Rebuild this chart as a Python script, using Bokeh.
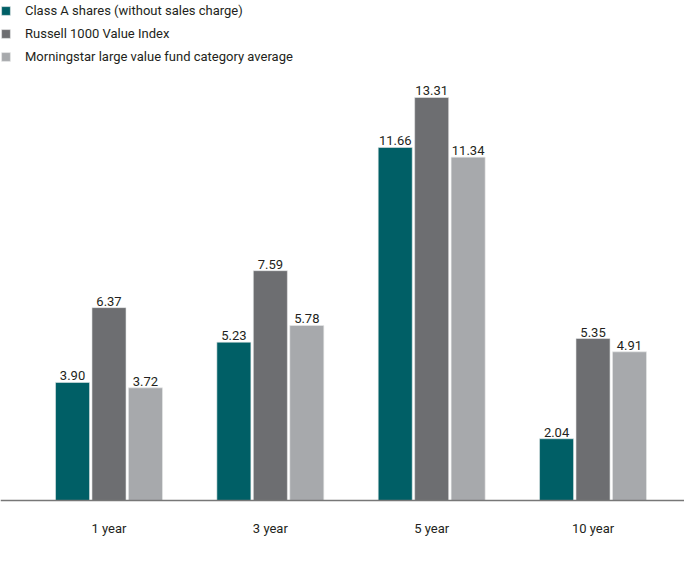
from bokeh.plotting import figure
from bokeh.models import ColumnDataSource, Span, Legend, LegendItem, Range1d
from bokeh.core.properties import value
from bokeh.embed import file_html
from bokeh.resources import INLINE

categories = ["1 year", "3 year", "5 year", "10 year"]
series_names = ["Class A shares (without sales charge)",
                "Russell 1000 Value Index",
                "Morningstar large value fund category average"]
class_a = [3.90, 5.23, 11.66, 2.04]
russell = [6.37, 7.59, 13.31, 5.35]
morningstar = [3.72, 5.78, 11.34, 4.91]
colors = ["#005F66", "#6D6E71", "#A7A9AC"]

FONT = "Roboto"
W, H = 684, 550

p = figure(width=W, height=H, output_backend="svg", toolbar_location=None,
           x_range=Range1d(-0.6725, 3.567), y_range=Range1d(-1.651, 16.513),
           min_border=0, outline_line_color=None)
p.axis.visible = False
p.grid.visible = False

xs = list(range(len(categories)))
offsets = [-0.226, 0.0, 0.226]
items = []
for vals, off, col, name in zip([class_a, russell, morningstar], offsets, colors, series_names):
    src = ColumnDataSource(dict(x=[x + off for x in xs], top=vals,
                                lbl=["%.2f" % v for v in vals]))
    r = p.vbar(x="x", top="top", bottom=0, width=0.211, source=src,
               fill_color=col, line_color="#e8eaea", line_width=0.6)
    p.text(x="x", y="top", text="lbl", source=src, text_align="center",
           text_baseline="bottom", y_offset=-2, text_font=value(FONT),
           text_font_size="13px", text_color="#231f20")
    items.append(LegendItem(label=name, renderers=[r]))

p.add_layout(Span(location=0, dimension="width", line_color="#777777", line_width=1.5))

csrc = ColumnDataSource(dict(x=xs, y=[0] * len(xs), t=categories))
p.text(x="x", y="y", text="t", source=csrc, text_align="center",
       text_baseline="middle", y_offset=28, text_font=value(FONT),
       text_font_size="13px", text_color="#231f20")

legend = Legend(items=items, location="top_left", margin=0, padding=0,
                background_fill_alpha=0, border_line_color=None,
                glyph_width=11, glyph_height=11, label_height=20, spacing=3,
                label_standoff=14, label_text_font=FONT,
                label_text_font_size="13px", label_text_color="#231f20")
p.add_layout(legend)

open("out.html", "w").write(file_html(p, INLINE))
